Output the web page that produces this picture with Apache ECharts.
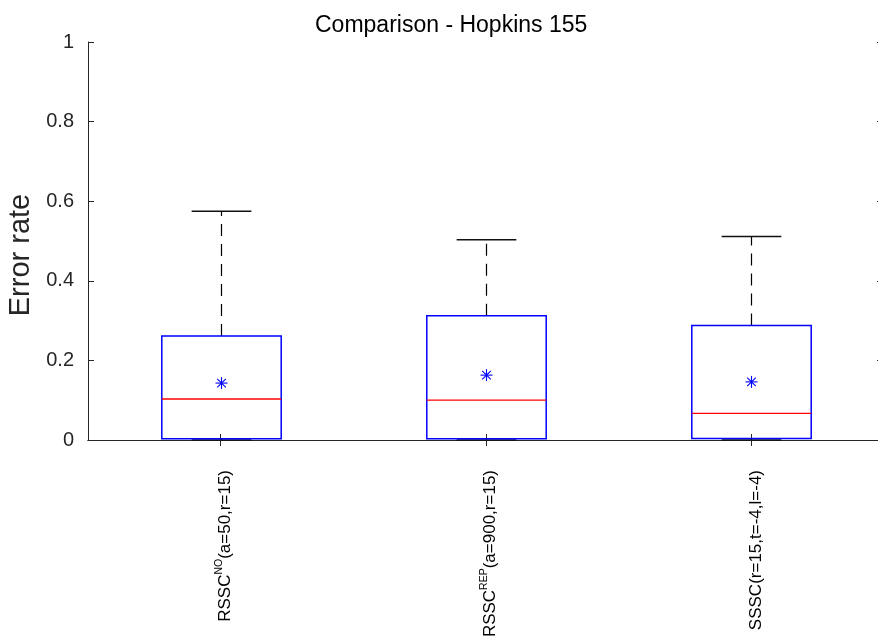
<!DOCTYPE html>
<html>
<head>
<meta charset="utf-8">
<script src="https://cdn.jsdelivr.net/npm/echarts@6/dist/echarts.min.js"></script>
<style>html,body{margin:0;padding:0;background:#fff;}#c{width:878px;height:639px;}</style>
</head>
<body>
<div id="c"></div>
<script>
const categories = ['RSSC_NO', 'RSSC_REP', 'SSSC'];
const labelMain = ['RSSC', 'RSSC', 'SSSC'];
const labelSup = ['NO', 'REP', ''];
const labelParams = ['(a=50,r=15)', '(a=900,r=15)', '(r=15,t=-4,l=-4)'];
const whiskerLow = [0.0, 0.0, 0.0];
const q1 = [0.003, 0.003, 0.004];
const medians = [0.103, 0.100, 0.067];
const q3 = [0.261, 0.312, 0.288];
const whiskerHigh = [0.575, 0.503, 0.511];
const means = [0.143, 0.163, 0.146];
const yTicks = [0, 0.2, 0.4, 0.6, 0.8, 1];

const FONT = 'Liberation Sans, Arial, Helvetica, sans-serif';
const AX = '#262626';

const chart = echarts.init(document.getElementById('c'), null, {renderer: 'canvas'});

const boxData = categories.map((c, i) => [i, whiskerLow[i], q1[i], medians[i], q3[i], whiskerHigh[i], means[i]]);

function renderBox(params, api) {
  const i = api.value(0);
  const band = api.size([1, 0])[0];
  const bw = band * 0.45;
  const cw = bw * 0.5;
  const x = Math.round(api.coord([i, 0])[0]) + 0.5;
  const yLo = api.coord([i, api.value(1)])[1];
  const yQ1 = api.coord([i, api.value(2)])[1];
  const yMed = api.coord([i, api.value(3)])[1];
  const yQ3 = api.coord([i, api.value(4)])[1];
  const yHi = api.coord([i, api.value(5)])[1];
  const yMean = api.coord([i, api.value(6)])[1];
  const dash = {stroke: '#000', lineWidth: 1.2, lineDash: [12, 8]};
  const solid = {stroke: '#111', lineWidth: 1.5};
  const s = 6;
  const d = s * 0.72;
  return {
    type: 'group',
    children: [
      {type: 'line', shape: {x1: x, y1: yQ3, x2: x, y2: yHi}, style: dash},
      {type: 'line', shape: {x1: x, y1: yQ1, x2: x, y2: yLo}, style: dash},
      {type: 'line', shape: {x1: x - cw / 2, y1: yHi, x2: x + cw / 2, y2: yHi}, style: solid},
      {type: 'line', shape: {x1: x - cw / 2, y1: yLo, x2: x + cw / 2, y2: yLo}, style: solid},
      {type: 'rect', shape: {x: x - bw / 2, y: yQ3, width: bw, height: yQ1 - yQ3}, style: {fill: null, stroke: '#0000ff', lineWidth: 1.5}},
      {type: 'line', shape: {x1: x - bw / 2, y1: yMed, x2: x + bw / 2, y2: yMed}, style: {stroke: '#ff0000', lineWidth: 1.3}},
      {type: 'line', shape: {x1: x, y1: yMean - s, x2: x, y2: yMean + s}, style: {stroke: '#0000ff', lineWidth: 1.1}},
      {type: 'line', shape: {x1: x - s, y1: yMean, x2: x + s, y2: yMean}, style: {stroke: '#0000ff', lineWidth: 1.1}},
      {type: 'line', shape: {x1: x - d, y1: yMean - d, x2: x + d, y2: yMean + d}, style: {stroke: '#0000ff', lineWidth: 1.1}},
      {type: 'line', shape: {x1: x - d, y1: yMean + d, x2: x + d, y2: yMean - d}, style: {stroke: '#0000ff', lineWidth: 1.1}}
    ]
  };
}

const option = {
  animation: false,
  backgroundColor: '#fff',
  textStyle: {fontFamily: FONT},
  title: {
    text: 'Comparison - Hopkins 155',
    left: 310, top: 9,
    textStyle: {fontFamily: FONT, fontSize: 23, fontWeight: 'normal', color: '#000'}
  },
  grid: {left: 88, right: -6, top: 42, bottom: 199, containLabel: false, outerBoundsMode: 'none'},
  xAxis: [
    {
      type: 'category', data: categories, position: 'bottom',
      axisLine: {show: true, lineStyle: {color: AX, width: 1}},
      axisTick: {show: true, inside: true, alignWithLabel: true, length: 6, lineStyle: {color: AX}},
      axisLabel: {
        rotate: 90, margin: 30, interval: 0, color: '#000',
        padding: [6, 0, 0, 0],
        formatter: function (v, idx) {
          const sup = labelSup[idx] ? '{s|' + labelSup[idx] + '}' : '';
          return '{m|' + labelMain[idx] + '}' + sup + '{m|' + labelParams[idx] + '}';
        },
        rich: {
          m: {fontFamily: FONT, fontSize: 17, color: '#000', verticalAlign: 'bottom', lineHeight: 20},
          s: {fontFamily: FONT, fontSize: 10.5, color: '#000', verticalAlign: 'top', lineHeight: 12}
        }
      },
      splitLine: {show: false}
    },
    {
      type: 'category', data: categories, position: 'top',
      axisLine: {show: true, lineStyle: {color: AX, width: 1}},
      axisTick: {show: true, inside: true, alignWithLabel: true, length: 6, lineStyle: {color: AX}},
      axisLabel: {show: false},
      splitLine: {show: false}
    }
  ],
  yAxis: [
    {
      type: 'value', min: 0, max: 1, interval: 0.2, position: 'left',
      name: 'Error rate', nameLocation: 'middle', nameGap: 44,
      nameTextStyle: {fontFamily: FONT, fontSize: 29, color: AX, padding: [0, 28, 0, 0]},
      axisLine: {show: true, lineStyle: {color: AX, width: 1}},
      axisTick: {show: true, inside: true, length: 6, lineStyle: {color: AX}},
      axisLabel: {fontFamily: FONT, fontSize: 20, color: AX, margin: 14},
      splitLine: {show: false}
    },
    {
      type: 'value', min: 0, max: 1, interval: 0.2, position: 'right',
      axisLine: {show: true, lineStyle: {color: AX, width: 1}},
      axisTick: {show: true, inside: true, length: 7, lineStyle: {color: AX}},
      axisLabel: {show: false},
      splitLine: {show: false}
    }
  ],
  series: [
    {
      type: 'custom',
      xAxisIndex: 0, yAxisIndex: 0,
      renderItem: renderBox,
      encode: {x: 0, y: [1, 2, 3, 4, 5, 6]},
      data: boxData,
      clip: false,
      z: 3
    }
  ]
};
chart.setOption(option);
</script>
</body>
</html>
